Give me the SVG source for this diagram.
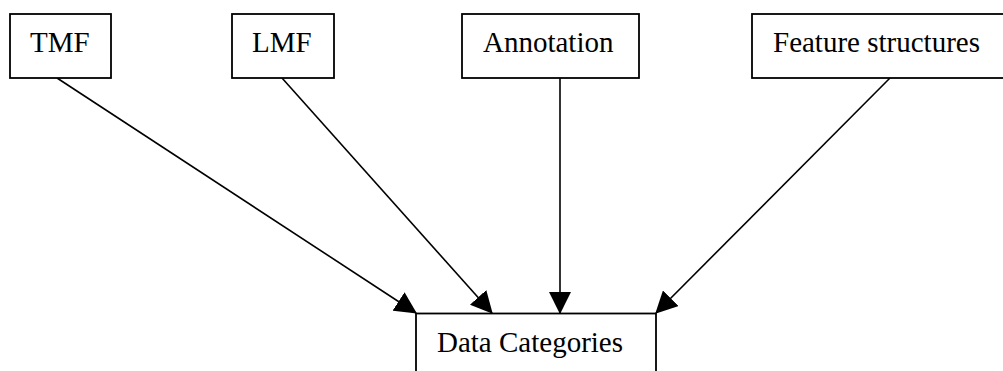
<svg xmlns="http://www.w3.org/2000/svg" width="1003" height="371" viewBox="0 0 1003 371">
<style>
.box{fill:#fff;stroke:#000;stroke-width:1.8}
.lbl{font-family:"Liberation Serif","Times New Roman",serif;font-size:29px;fill:#000}
.edge{stroke:#000;stroke-width:1.6;fill:none;marker-end:url(#arr)}
</style>
<defs>
<marker id="arr" markerUnits="userSpaceOnUse" markerWidth="22" markerHeight="22" viewBox="0 0 20 20" refX="19" refY="10" orient="auto">
<path d="M0,0 L20,10 L0,20 z" fill="#000"/>
</marker>
</defs>
<rect width="1003" height="371" fill="#fff"/>
<g id="connectors">
<line class="edge" x1="57" y1="78" x2="416" y2="313"/>
<line class="edge" x1="282" y1="78" x2="492" y2="313"/>
<line class="edge" x1="560" y1="78" x2="560" y2="313"/>
<line class="edge" x1="890" y1="78" x2="656" y2="313"/>
</g>
<g id="node-tmf">
<rect class="box" x="10" y="14" width="101" height="64"/>
<text class="lbl" x="30" y="52">TMF</text>
</g>
<g id="node-lmf">
<rect class="box" x="232" y="14" width="102" height="64"/>
<text class="lbl" x="252" y="52">LMF</text>
</g>
<g id="node-annotation">
<rect class="box" x="462" y="14" width="177" height="64"/>
<text class="lbl" x="483" y="52">Annotation</text>
</g>
<g id="node-feature">
<rect class="box" x="752" y="14" width="270" height="64"/>
<text class="lbl" x="773" y="52">Feature structures</text>
</g>
<g id="node-datacat">
<rect class="box" x="416" y="313.5" width="240" height="80"/>
<text class="lbl" x="437" y="352">Data Categories</text>
</g>
</svg>
